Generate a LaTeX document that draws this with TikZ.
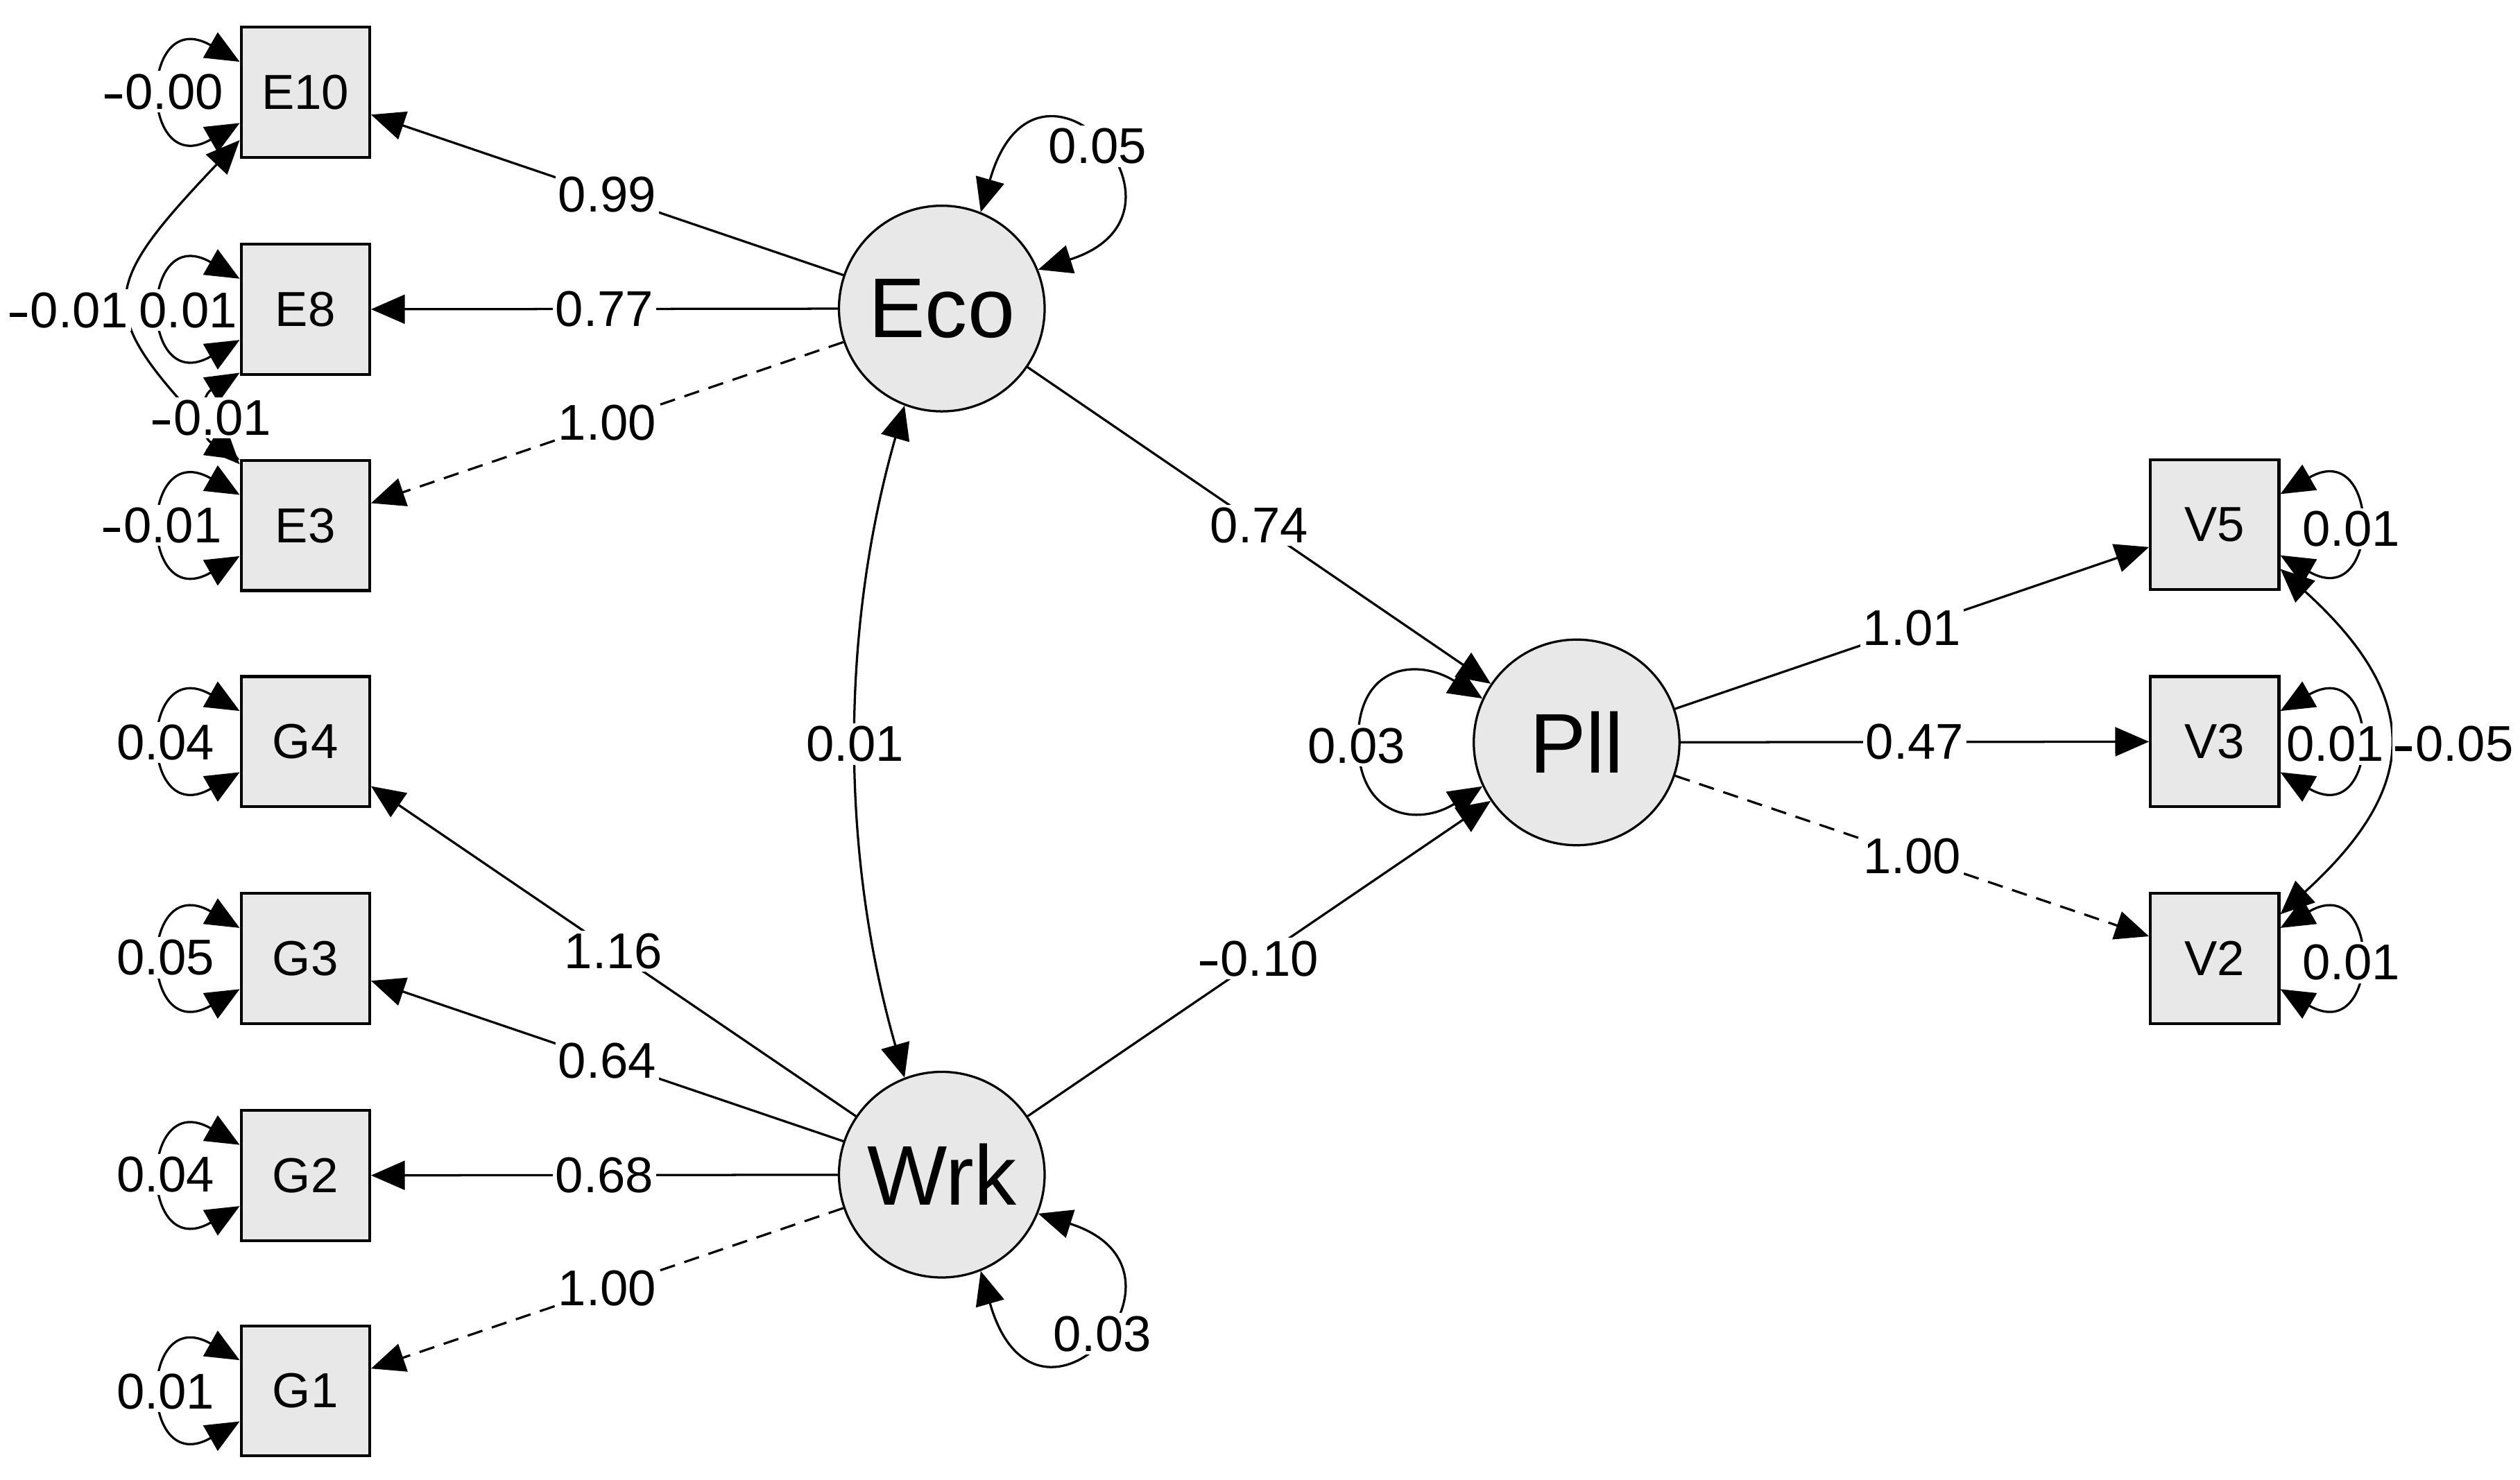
\documentclass[tikz,border=0pt]{standalone}
\usepackage{fontspec}
\setmainfont{Liberation Sans}
\usetikzlibrary{arrows.meta}
\definecolor{boxgray}{HTML}{E8E8E8}
\newcommand{\mn}{\rule[0.21em]{0.34em}{0.085em}\kern0.07em}
\begin{document}
\begin{tikzpicture}[x=0.02cm,y=-0.02cm,
  obs/.style={draw, line width=1pt, fill=boxgray, minimum width=1.6cm, minimum height=1.62cm, inner sep=0pt, font=\fontsize{17.4}{20}\selectfont},
  lat/.style={draw, circle, line width=0.8pt, fill=boxgray, minimum size=2.56cm, inner sep=0pt, font=\fontsize{30}{34}\selectfont},
  conn/.style={line width=0.8pt, -{Triangle[length=0.42cm,width=0.36cm]}},
  dconn/.style={line width=0.8pt, {Triangle[length=0.42cm,width=0.36cm]}-{Triangle[length=0.42cm,width=0.36cm]}},
  dsh/.style={dash pattern=on 5.5pt off 3.5pt},
  lbl/.style={fill=white, inner sep=1pt, font=\fontsize{17.8}{20}\selectfont},
]
\useasboundingbox (0,0) rectangle (1568,921);

% observed indicators
\node[obs] (E10) at (190,57.5) {E10};
\node[obs] (E8) at (190,192.5) {E8};
\node[obs] (E3) at (190,327) {E3};
\node[obs] (G4) at (190,461.5) {G4};
\node[obs] (G3) at (190,596.5) {G3};
\node[obs] (G2) at (190,731.5) {G2};
\node[obs] (G1) at (190,865.5) {G1};
\node[obs] (V5) at (1378,326.5) {V5};
\node[obs] (V3) at (1378,461.5) {V3};
\node[obs] (V2) at (1378,596.5) {V2};

% latent variables
\node[lat] (Eco) at (586,192) {Eco};
\node[lat] (Wrk) at (586,731) {Wrk};
\node[lat] (Pll) at (981,462) {Pll};

% loadings and regressions
\draw[conn] (Eco) -- node[lbl]{0.99} (E10);
\draw[conn] (Eco) -- node[lbl]{0.77} (E8);
\draw[conn,dsh] (Eco) -- node[lbl]{1.00} (E3);
\draw[conn] (Eco) -- node[lbl]{0.74} (Pll);
\draw[conn] (Wrk) -- node[lbl]{\mn 0.10} (Pll);
\draw[conn] (Wrk) -- node[lbl]{1.16} (G4);
\draw[conn] (Wrk) -- node[lbl]{0.64} (G3);
\draw[conn] (Wrk) -- node[lbl]{0.68} (G2);
\draw[conn,dsh] (Wrk) -- node[lbl]{1.00} (G1);
\draw[conn] (Pll) -- node[lbl]{1.01} (V5);
\draw[conn] (Pll) -- node[lbl]{0.47} (V3);
\draw[conn,dsh] (Pll) -- node[lbl]{1.00} (V2);

% latent variances
\draw[dconn] (Eco.68) .. controls +(35,-122) and +(110,-35) .. (Eco.22);
\draw[dconn] (Wrk.-22) .. controls +(110,35) and +(35,122) .. (Wrk.-68);
\coordinate (pllL) at (845,461);
\draw[dconn] (Pll.155) .. controls +(-40,-25) and +(0,-48) .. (pllL)
  .. controls +(0,48) and +(-40,25) .. (Pll.205);

% covariance Eco-Wrk
\draw[dconn] (Eco.249) .. controls +(-40,140) and +(-40,-140) .. (Wrk.111);

% residual variances (left)
\foreach \b in {E10,E8,E3,G4,G3,G2,G1}{
  \draw[dconn] (\b.155) .. controls +(-63,-36) and +(-63,36) .. (\b.205);
}
% residual variances (right)
\foreach \b in {V5,V3,V2}{
  \draw[dconn] (\b.25) .. controls +(63,-36) and +(63,36) .. (\b.-25);
}

% residual covariances
\draw[dconn] (E10.216) .. controls +(-90,95) and +(-90,-95) .. (E3.137);
\draw[dconn] (E8.224) .. controls +(-25,15) and +(-25,-15) .. (E3.135);
\draw[dconn] (V5.-34) .. controls +(88,80) and +(88,-80) .. (V2.34);

% labels of variances and covariances
\node[lbl] (lEco) at (683,91) {0.05};
\node[lbl] (lWrk) at (686,830) {0.03};
\node[lbl] (lPll) at (844,464) {0.03};
\node[lbl] (lEW) at (532,463) {0.01};
\node[lbl] (lE10) at (102,57) {\mn 0.00};
\node[lbl] (lE8) at (117,193) {0.01};
\node[lbl] (lE10E3) at (43,193) {\mn 0.01};
\node[lbl] (lE8E3) at (132,260) {\mn 0.01};
\node[lbl] (lE3) at (101,327) {\mn 0.01};
\node[lbl] (lG4) at (103,462) {0.04};
\node[lbl] (lG3) at (103,596) {0.05};
\node[lbl] (lG2) at (103,731) {0.04};
\node[lbl] (lG1) at (103,866) {0.01};
\node[lbl] (lV5) at (1463,329) {0.01};
\node[lbl] (lV3) at (1453,463) {0.01};
\node[lbl] (lV5V2) at (1527,463) {\mn 0.05};
\node[lbl] (lV2) at (1463,599) {0.01};
\end{tikzpicture}
\end{document}
